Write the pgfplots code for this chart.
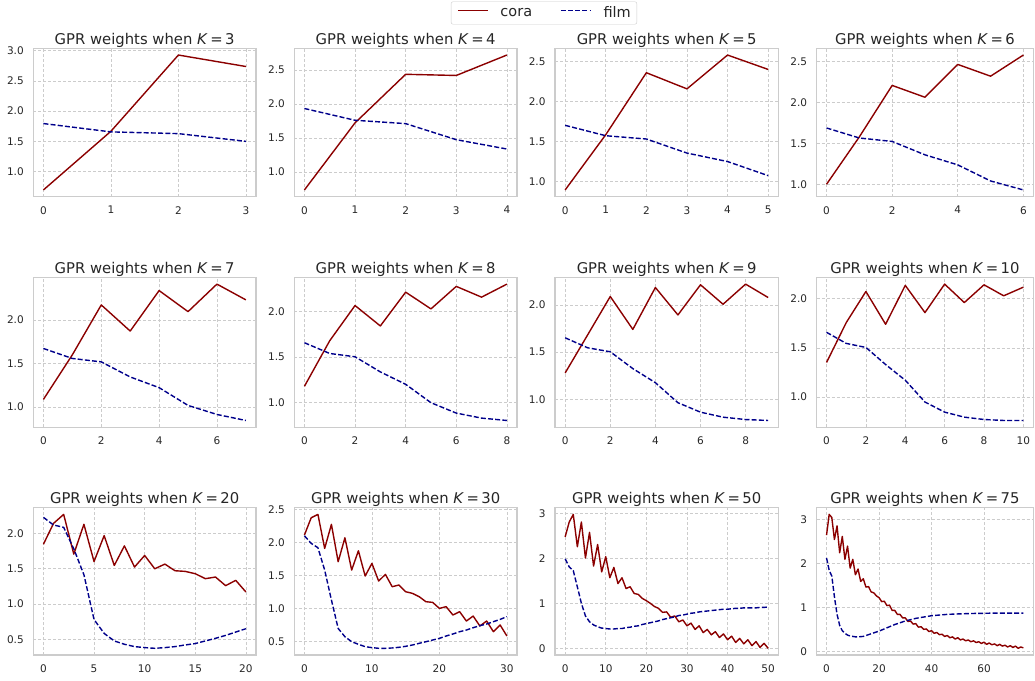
\documentclass[border=0pt]{standalone}
\usepackage{pgfplots}
\pgfplotsset{compat=1.18}
\usepackage{fontspec}
\setmainfont{DejaVu Sans}
\definecolor{coracol}{HTML}{8B0000}
\definecolor{filmcol}{HTML}{00008B}
\definecolor{framecol}{HTML}{CCCCCC}
\definecolor{gridcol}{HTML}{CCCCCC}
\definecolor{txtcol}{HTML}{262626}
\pgfplotsset{
  gpr/.style={scale only axis, anchor=south west,
    axis line style={draw=framecol, line width=1.1pt},
    grid=major, major grid style={dash pattern=on 3pt off 2pt, color=gridcol, line width=0.7pt},
    major tick length=0pt, tick style={draw=none},
    ticklabel style={font=\fontsize{10.5}{12}\selectfont, text=txtcol},
    xticklabel style={yshift=-6pt}, yticklabel style={xshift=-6pt},
    title style={font=\fontsize{14.8}{17}\selectfont, text=txtcol, yshift=-8.5pt},
    enlarge x limits=0.05, enlarge y limits=0.05,
    /pgf/number format/assume math mode=true,
    yticklabel style={/pgf/number format/.cd, fixed, fixed zerofill, precision=1},
    xticklabel style={/pgf/number format/.cd, fixed, precision=0},
  },
  intlab/.style={yticklabel style={/pgf/number format/.cd, fixed, fixed zerofill=false, precision=0}},
  cora/.style={color=coracol, line width=1.4pt, line join=round},
  film/.style={color=filmcol, line width=1.4pt, dash pattern=on 5pt off 2.2pt, line join=round},
}
\newcommand{\gtitle}[1]{GPR weights when \textit{K}\,=\,#1}
\begin{document}
\begin{tikzpicture}
\path[use as bounding box] (0pt,0pt) rectangle (1035pt,680pt);
% ---------- Row 1 ----------
\begin{axis}[gpr, at={(33.3pt,483.3pt)}, width=222.7pt, height=148.4pt, title={\gtitle{3}},
  xtick={0,1,2,3}, ytick={1.0,1.5,2.0,2.5,3.0},
  legend columns=2,
  legend style={at={(2.293,1.238)}, anchor=center, draw=framecol, rounded corners=2pt,
    font=\fontsize{14.5}{16}\selectfont, text=txtcol,
    nodes={inner xsep=0pt, inner ysep=2pt},
    /tikz/every odd column/.append style={column sep=12pt},
    /tikz/every even column/.append style={column sep=28pt},
    inner xsep=6pt, inner ysep=3pt},
  legend image code/.code={\draw[#1] (0pt,0.25em) -- (30pt,0.25em);}]
\addplot[cora] coordinates {(0,0.695) (1,1.667) (2,2.93) (3,2.74)};
\addplot[film] coordinates {(0,1.795) (1,1.657) (2,1.628) (3,1.50)};
\legend{cora, film}
\end{axis}
\begin{axis}[gpr, at={(294.3pt,483.3pt)}, width=222.7pt, height=148.4pt, title={\gtitle{4}},
  xtick={0,1,2,3,4}, ytick={1.0,1.5,2.0,2.5}]
\addplot[cora] coordinates {(0,0.739) (1,1.724) (2,2.437) (3,2.42) (4,2.72)};
\addplot[film] coordinates {(0,1.935) (1,1.762) (2,1.713) (3,1.477) (4,1.34)};
\end{axis}
\begin{axis}[gpr, at={(555pt,483.3pt)}, width=223.3pt, height=148.4pt, title={\gtitle{5}},
  xtick={0,1,2,3,4,5}, ytick={1.0,1.5,2.0,2.5}]
\addplot[cora] coordinates {(0,0.896) (1,1.587) (2,2.362) (3,2.16) (4,2.583) (5,2.403)};
\addplot[film] coordinates {(0,1.704) (1,1.574) (2,1.533) (3,1.357) (4,1.251) (5,1.075)};
\end{axis}
\begin{axis}[gpr, at={(816.7pt,483.3pt)}, width=216.5pt, height=148.4pt, title={\gtitle{6}},
  xtick={0,2,4,6}, ytick={1.0,1.5,2.0,2.5}]
\addplot[cora] coordinates {(0,1.0) (1,1.58) (2,2.21) (3,2.065) (4,2.467) (5,2.323) (6,2.582)};
\addplot[film] coordinates {(0,1.689) (1,1.566) (2,1.524) (3,1.36) (4,1.237) (5,1.04) (6,0.93)};
\end{axis}
% ---------- Row 2 ----------
\begin{axis}[gpr, at={(33.3pt,252.7pt)}, width=222.7pt, height=150pt, title={\gtitle{7}},
  xtick={0,2,4,6}, ytick={1.0,1.5,2.0}]
\addplot[cora] coordinates {(0,1.088) (1,1.60) (2,2.173) (3,1.873) (4,2.338) (5,2.096) (6,2.412) (7,2.231)};
\addplot[film] coordinates {(0,1.673) (1,1.558) (2,1.519) (3,1.346) (4,1.223) (5,1.019) (6,0.915) (7,0.846)};
\end{axis}
\begin{axis}[gpr, at={(294.3pt,252.7pt)}, width=222.7pt, height=150pt, title={\gtitle{8}},
  xtick={0,2,4,6,8}, ytick={1.0,1.5,2.0}]
\addplot[cora] coordinates {(0,1.18) (1,1.68) (2,2.066) (3,1.842) (4,2.213) (5,2.029) (6,2.276) (7,2.158) (8,2.301)};
\addplot[film] coordinates {(0,1.658) (1,1.54) (2,1.504) (3,1.338) (4,1.202) (5,1.0) (6,0.886) (7,0.831) (8,0.805)};
\end{axis}
\begin{axis}[gpr, at={(555pt,252.7pt)}, width=223.3pt, height=150pt, title={\gtitle{9}},
  xtick={0,2,4,6,8}, ytick={1.0,1.5,2.0}]
\addplot[cora] coordinates {(0,1.28) (1,1.684) (2,2.089) (3,1.741) (4,2.184) (5,1.894) (6,2.213) (7,2.007) (8,2.22) (9,2.078)};
\addplot[film] coordinates {(0,1.652) (1,1.546) (2,1.504) (3,1.326) (4,1.177) (5,0.965) (6,0.865) (7,0.812) (8,0.787) (9,0.777)};
\end{axis}
\begin{axis}[gpr, at={(816.7pt,252.7pt)}, width=216.5pt, height=150pt, title={\gtitle{10}},
  xtick={0,2,4,6,8,10}, ytick={1.0,1.5,2.0}]
\addplot[cora] coordinates {(0,1.352) (1,1.758) (2,2.075) (3,1.741) (4,2.137) (5,1.86) (6,2.15) (7,1.962) (8,2.143) (9,2.031) (10,2.119)};
\addplot[film] coordinates {(0,1.659) (1,1.546) (2,1.505) (3,1.331) (4,1.171) (5,0.949) (6,0.846) (7,0.795) (8,0.771) (9,0.761) (10,0.761)};
\end{axis}
% ---------- Row 3 ----------
\begin{axis}[gpr, at={(33.3pt,25pt)}, width=222.7pt, height=147.3pt, title={\gtitle{20}},
  xtick={0,5,10,15,20}, ytick={0.5,1.0,1.5,2.0}]
\addplot[cora] coordinates {(0,1.845) (1,2.14) (2,2.267) (3,1.705) (4,2.127) (5,1.6) (6,1.967) (7,1.545) (8,1.822) (9,1.522) (10,1.686) (11,1.498) (12,1.564) (13,1.47) (14,1.461) (15,1.428) (16,1.358) (17,1.381) (18,1.259) (19,1.334) (20,1.17)};
\addplot[film] coordinates {(0,2.225) (1,2.117) (2,2.084) (3,1.78) (4,1.414) (5,0.78) (6,0.584) (7,0.477) (8,0.43) (9,0.397) (10,0.383) (11,0.373) (12,0.383) (13,0.397) (14,0.42) (15,0.44) (16,0.477) (17,0.514) (18,0.556) (19,0.603) (20,0.65)};
\end{axis}
\begin{axis}[gpr, at={(294.3pt,25pt)}, width=222.7pt, height=147.3pt, title={\gtitle{30}},
  xtick={0,10,20,30}, ytick={0.5,1.0,1.5,2.0,2.5}]
\addplot[cora] coordinates {(0,2.111) (1,2.372) (2,2.423) (3,1.909) (4,2.272) (5,1.708) (6,2.07) (7,1.582) (8,1.874) (9,1.492) (10,1.683) (11,1.416) (12,1.517) (13,1.331) (14,1.356) (15,1.255) (16,1.23) (17,1.18) (18,1.104) (19,1.094) (20,1.003) (21,1.029) (22,0.903) (23,0.953) (24,0.812) (25,0.887) (26,0.737) (27,0.812) (28,0.651) (29,0.752) (30,0.586)};
\addplot[film] coordinates {(0,2.1) (1,1.985) (2,1.92) (3,1.582) (4,1.13) (5,0.70) (6,0.575) (7,0.5) (8,0.46) (9,0.425) (10,0.41) (11,0.4) (12,0.4) (13,0.405) (14,0.415) (15,0.43) (16,0.45) (17,0.475) (18,0.5) (19,0.525) (20,0.55) (21,0.586) (22,0.616) (23,0.651) (24,0.676) (25,0.711) (26,0.742) (27,0.767) (28,0.802) (29,0.837) (30,0.878)};
\end{axis}
\begin{axis}[gpr, intlab, at={(555pt,25pt)}, width=223.3pt, height=147.3pt, title={\gtitle{50}},
  xtick={0,10,20,30,40,50}, ytick={0,1,2,3}]
\addplot[cora] coordinates {(0,2.48) (1,2.81) (2,2.98) (3,2.26) (4,2.81) (5,2.01) (6,2.58) (7,1.83) (8,2.31) (9,1.70) (10,2.04) (11,1.57) (12,1.80) (13,1.44) (14,1.57) (15,1.33) (16,1.37) (17,1.22) (18,1.20) (19,1.11) (20,1.06) (21,1.0) (22,0.93) (23,0.89) (24,0.80) (25,0.81) (26,0.69) (27,0.72) (28,0.59) (29,0.63) (30,0.50) (31,0.56) (32,0.42) (33,0.50) (34,0.35) (35,0.42) (36,0.30) (37,0.37) (38,0.24) (39,0.32) (40,0.19) (41,0.27) (42,0.13) (43,0.22) (44,0.10) (45,0.19) (46,0.06) (47,0.15) (48,0.02) (49,0.11) (50,0.0)};
\addplot[film] coordinates {(0,1.99) (1,1.81) (2,1.73) (3,1.37) (4,1.0) (5,0.72) (6,0.59) (7,0.52) (8,0.48) (9,0.45) (10,0.44) (11,0.43) (12,0.43) (13,0.44) (14,0.44) (15,0.46) (16,0.47) (17,0.49) (18,0.50) (19,0.53) (20,0.55) (21,0.57) (22,0.59) (23,0.61) (24,0.64) (25,0.66) (26,0.68) (27,0.70) (28,0.73) (29,0.74) (30,0.76) (31,0.78) (32,0.79) (33,0.81) (34,0.82) (35,0.83) (36,0.84) (37,0.85) (38,0.86) (39,0.87) (40,0.87) (41,0.88) (42,0.89) (43,0.89) (44,0.90) (45,0.90) (46,0.90) (47,0.90) (48,0.91) (49,0.91) (50,0.92)};
\end{axis}
\begin{axis}[gpr, intlab, at={(816.7pt,25pt)}, width=216.5pt, height=147.3pt, title={\gtitle{75}},
  xtick={0,20,40,60}, ytick={0,1,2,3}]
\addplot[cora] coordinates {(0,2.65) (1,3.12) (2,3.05) (3,2.55) (4,2.86) (5,2.25) (6,2.62) (7,2.10) (8,2.40) (9,1.90) (10,2.10) (11,1.75) (12,1.88) (13,1.60) (14,1.66) (15,1.47) (16,1.48) (17,1.36) (18,1.34) (19,1.27) (20,1.23) (21,1.14) (22,1.15) (23,1.05) (24,1.06) (25,0.94) (26,0.94) (27,0.85) (28,0.85) (29,0.77) (30,0.77) (31,0.69) (32,0.70) (33,0.63) (34,0.64) (35,0.56) (36,0.57) (37,0.51) (38,0.52) (39,0.46) (40,0.48) (41,0.42) (42,0.44) (43,0.39) (44,0.40) (45,0.35) (46,0.37) (47,0.32) (48,0.34) (49,0.29) (50,0.32) (51,0.27) (52,0.29) (53,0.25) (54,0.27) (55,0.23) (56,0.25) (57,0.21) (58,0.23) (59,0.19) (60,0.22) (61,0.17) (62,0.20) (63,0.16) (64,0.18) (65,0.14) (66,0.17) (67,0.13) (68,0.15) (69,0.11) (70,0.14) (71,0.10) (72,0.13) (73,0.08) (74,0.11) (75,0.09)};
\addplot[film] coordinates {(0,2.13) (1,1.85) (2,1.72) (3,1.25) (4,0.85) (5,0.60) (6,0.48) (7,0.42) (8,0.38) (9,0.36) (10,0.35) (11,0.34) (12,0.34) (13,0.345) (14,0.35) (15,0.37) (16,0.39) (17,0.41) (18,0.43) (19,0.45) (20,0.47) (22,0.52) (24,0.57) (26,0.62) (28,0.66) (30,0.70) (32,0.73) (34,0.76) (36,0.78) (38,0.80) (40,0.82) (42,0.83) (44,0.84) (46,0.85) (48,0.855) (50,0.86) (55,0.87) (60,0.875) (65,0.88) (70,0.88) (75,0.88)};
\end{axis}
\end{tikzpicture}
\end{document}
